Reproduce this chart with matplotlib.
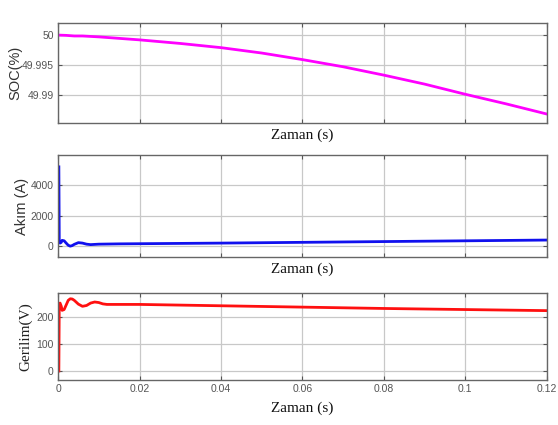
import matplotlib.pyplot as plt
import numpy as np

plt.rcParams['font.sans-serif'] = ['Liberation Sans', 'DejaVu Sans']
plt.rcParams['font.family'] = 'sans-serif'

# SOC (%)
t_soc = [0, 0.002, 0.004, 0.006, 0.01, 0.02, 0.03, 0.04, 0.05, 0.06, 0.07, 0.08, 0.09, 0.1, 0.11, 0.12]
soc = [50.0, 49.99995, 49.99985, 49.99985, 49.9997, 49.9992, 49.9986, 49.9979, 49.9970, 49.9959,
       49.9947, 49.9933, 49.9918, 49.9901, 49.9885, 49.9868]

# current (A)
t_cur = [0.0002, 0.0003, 0.0005, 0.0008, 0.001, 0.0015, 0.002, 0.0025, 0.003, 0.0035, 0.004, 0.005,
         0.006, 0.007, 0.008, 0.01, 0.015, 0.02, 0.04, 0.06, 0.08, 0.1, 0.12]
cur = [5200, 300, 200, 250, 380, 350, 200, 60, 0, 40, 120, 230, 200, 130, 100, 130, 150, 160,
       200, 250, 300, 350, 400]

# voltage (V)
t_v = [0.0002, 0.0003, 0.0005, 0.0008, 0.001, 0.0015, 0.002, 0.0025, 0.003, 0.0035, 0.004, 0.005,
       0.006, 0.007, 0.008, 0.009, 0.01, 0.011, 0.012, 0.02, 0.04, 0.06, 0.08, 0.1, 0.12]
volt = [0, 250, 252, 240, 225, 228, 245, 262, 268, 267, 262, 248, 240, 243, 252, 256, 254, 249,
        247, 247, 242, 237, 232, 228, 224]

xticks = [0, 0.02, 0.04, 0.06, 0.08, 0.1, 0.12]
xtick_labels = ['0', '0.02', '0.04', '0.06', '0.08', '0.1', '0.12']

fig = plt.figure(figsize=(5.58, 4.25), dpi=100)
ax1 = fig.add_axes([0.104, 0.7106, 0.876, 0.235])
ax2 = fig.add_axes([0.104, 0.395, 0.876, 0.240])
ax3 = fig.add_axes([0.104, 0.106, 0.876, 0.205])

ax1.plot(t_soc, soc, color='#ff00ff', lw=2)
ax1.set_ylim(49.9853, 50.002)
ax1.set_yticks([49.99, 49.995, 50])
ax1.set_yticklabels(['49.99', '49.995', '50'])
ax1.set_ylabel('SOC(%)', fontsize=10.5, color='#333333', labelpad=0)

ax2.plot(t_cur, cur, color='#1010ee', lw=2)
ax2.set_ylim(-720, 5970)
ax2.set_yticks([0, 2000, 4000])
ax2.set_ylabel('Akım (A)', fontsize=10.5, color='#333333', labelpad=1)

ax3.plot(t_v, volt, color='#ff1010', lw=2)
ax3.set_ylim(-33, 290)
ax3.set_yticks([0, 100, 200])
ax3.set_ylabel('Gerilim(V)', fontsize=11, family='Liberation Serif', color='#222222', labelpad=3)

for ax in (ax1, ax2, ax3):
    ax.set_xlim(0, 0.12)
    ax.set_xticks(xticks)
    ax.grid(True, color='#c8c8c8', lw=0.9)
    ax.tick_params(direction='in', length=3, top=True, right=True, labelsize=7.5,
                   labelcolor='#555555', color='#555555', pad=3)
    for s in ax.spines.values():
        s.set_color('#666666')
        s.set_linewidth(1.0)
    ax.set_xlabel('Zaman (s)', fontsize=11, family='Liberation Serif', color='#111111', labelpad=1)

ax1.set_xticklabels([])
ax2.set_xticklabels([])
ax3.set_xticklabels(xtick_labels)
ax3.xaxis.labelpad = 5

fig.savefig('out.png', dpi=100)
